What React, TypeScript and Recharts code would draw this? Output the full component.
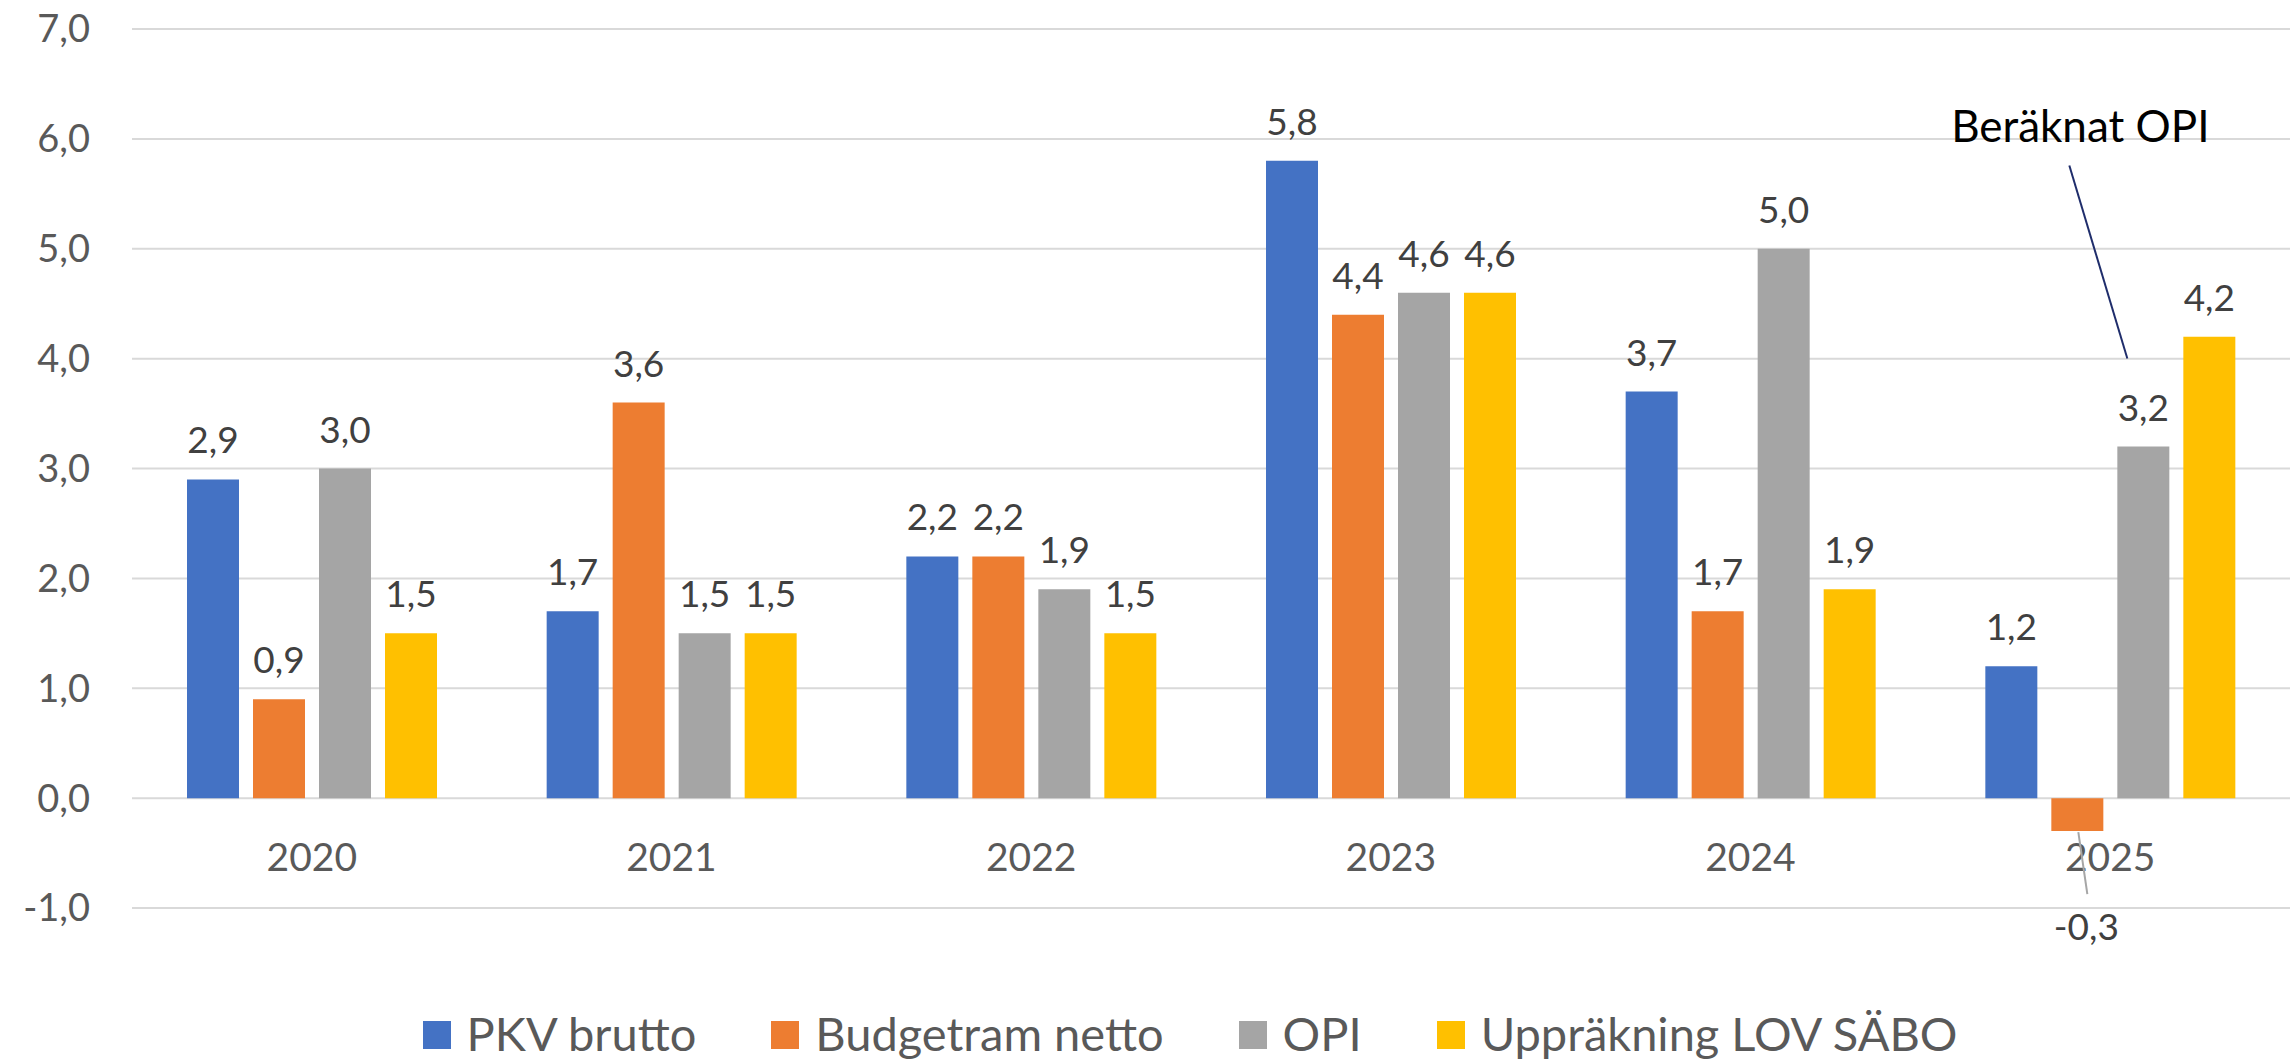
import React from 'react';
import { BarChart, Bar, XAxis, YAxis, CartesianGrid, Legend, LabelList } from 'recharts';

const categories = ['2020', '2021', '2022', '2023', '2024', '2025'];
const pkvBrutto = [2.9, 1.7, 2.2, 5.8, 3.7, 1.2];
const budgetramNetto = [0.9, 3.6, 2.2, 4.4, 1.7, -0.3];
const opi = [3.0, 1.5, 1.9, 4.6, 5.0, 3.2];
const upprakningLovSabo = [1.5, 1.5, 1.5, 4.6, 1.9, 4.2];
const yTicks = [-1, 0, 1, 2, 3, 4, 5, 6, 7];

const seriesDefs = [
  { key: 'pkv', name: 'PKV brutto', color: '#4472C4', values: pkvBrutto },
  { key: 'budget', name: 'Budgetram netto', color: '#ED7D31', values: budgetramNetto },
  { key: 'opi', name: 'OPI', color: '#A5A5A5', values: opi },
  { key: 'lov', name: 'Uppräkning LOV SÄBO', color: '#FFC000', values: upprakningLovSabo },
];

const annotations = [{ category: '2025', seriesKey: 'opi', text: 'Beräknat OPI' }];

const data = categories.map((c, i) => {
  const row: Record<string, any> = { category: c };
  seriesDefs.forEach((s) => {
    row[s.key] = s.values[i];
  });
  return row;
});

const FONT = 'Lato, "Open Sans", sans-serif';
const fmt = (v: number) => v.toFixed(1).replace('.', ',');

const makeLabel = (seriesKey: string) => (props: any) => {
  const { x, y, width, height, value, index } = props;
  const cx = Number(x) + Number(width) / 2;
  const top = Math.min(Number(y), Number(y) + Number(height));
  const bottom = Math.max(Number(y), Number(y) + Number(height));
  const v = Number(value);
  const cat = categories[index];
  const ann = annotations.find((a) => a.category === cat && a.seriesKey === seriesKey);
  const parts: any[] = [];
  if (v < 0) {
    parts.push(
      <line key="l" x1={cx + 1} y1={bottom + 1} x2={cx + 10} y2={bottom + 63} stroke="#A6A6A6" strokeWidth={2} />
    );
    parts.push(
      <text key="t" x={cx + 9} y={bottom + 109} textAnchor="middle" fill="#404040" fontSize={37} fontFamily={FONT}>
        {fmt(v)}
      </text>
    );
  } else {
    parts.push(
      <text key="t" x={cx} y={top - 26} textAnchor="middle" fill="#404040" fontSize={37} fontFamily={FONT}>
        {fmt(v)}
      </text>
    );
  }
  if (ann) {
    parts.push(
      <line key="al" x1={cx - 74} y1={top - 281} x2={cx - 16} y2={top - 88} stroke="#1F2D6B" strokeWidth={2} />
    );
    parts.push(
      <text key="at" x={cx - 63} y={top - 305} textAnchor="middle" fill="#000000" fontSize={44} fontFamily={FONT}>
        {ann.text}
      </text>
    );
  }
  return <g>{parts}</g>;
};

const XTick = (props: any) => {
  const { x, y, payload } = props;
  return (
    <text x={x} y={y - 45} textAnchor="middle" fill="#595959" fontSize={39} fontFamily={FONT}>
      {payload.value}
    </text>
  );
};

const renderLegend = (props: any) => {
  const payload = [...(props.payload || [])];
  const order = (p: any) => seriesDefs.findIndex((s) => s.name === p.value);
  payload.sort((a: any, b: any) => order(a) - order(b));
  return (
    <div
      style={{
        display: 'flex',
        justifyContent: 'center',
        alignItems: 'center',
        fontFamily: FONT,
        fontSize: 47,
        color: '#595959',
        lineHeight: 1.2,
      }}
    >
      {payload.map((p: any, i: number) => (
        <div key={p.value} style={{ display: 'flex', alignItems: 'center', marginLeft: i ? 75 : 0 }}>
          <span style={{ display: 'inline-block', width: 28, height: 28, background: p.color, marginRight: 16, marginTop: 4 }} />
          <span>{p.value}</span>
        </div>
      ))}
    </div>
  );
};

export default function App() {
  return (
    <div style={{ position: 'absolute', left: 0, top: 0, width: 2293, height: 1060, background: '#fff', fontFamily: FONT }}>
      <BarChart
        width={2293}
        height={1060}
        data={data}
        margin={{ top: 29, right: 3, bottom: 122, left: 0 }}
        barCategoryGap={55}
        barGap={14}
      >
        <CartesianGrid vertical={false} stroke="#D9D9D9" strokeWidth={2} />
        <XAxis
          dataKey="category"
          axisLine={false}
          tickLine={false}
          height={30}
          tick={<XTick />}
          interval={0}
        />
        <YAxis
          domain={[-1, 7]}
          ticks={yTicks}
          width={132}
          axisLine={false}
          tickLine={false}
          tickMargin={36}
          tickFormatter={(v: number) => fmt(v)}
          tick={{ fill: '#595959', fontSize: 38, fontFamily: FONT }}
          allowDataOverflow
        />
        <Legend
          layout="horizontal"
          verticalAlign="middle"
          align="center"
          content={renderLegend}
          wrapperStyle={{ top: 1005, left: 88, width: 2204 }}
        />
        {seriesDefs.map((s) => (
          <Bar key={s.key} dataKey={s.key} name={s.name} fill={s.color} isAnimationActive={false}>
            <LabelList dataKey={s.key} content={makeLabel(s.key)} />
          </Bar>
        ))}
      </BarChart>
    </div>
  );
}
